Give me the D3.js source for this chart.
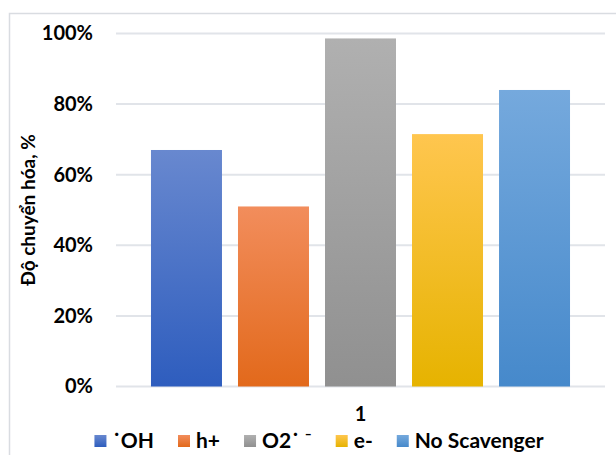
<!DOCTYPE html>
<html>
<head>
<meta charset="utf-8">
<script src="https://cdn.jsdelivr.net/npm/d3@7"></script>
<style>
  html, body { margin: 0; padding: 0; background: #fff; }
  svg { display: block; }
  text { font-family: Lato, "Open Sans", "Liberation Sans", sans-serif; font-weight: bold; fill: #000; }
</style>
</head>
<body>
<svg id="chart" width="616" height="455"></svg>
<script>
// Conversion (%) for each scavenger, single category "1"
const categories = ["1"];
const seriesNames = ["\u02D9OH", "h+", "O2\u02D9 \u207B", "e-", "No Scavenger"];
const seriesValues = [0.67, 0.51, 0.986, 0.715, 0.84];
const yTicks = [0, 0.2, 0.4, 0.6, 0.8, 1.0];
const yTitle = "Độ chuyển hóa, %";

// Gradient stops (top, bottom) per series
const colorTop = ["#6888CF", "#F28D5C", "#B0B0B0", "#FFC64F", "#75A9DD"];
const colorBottom = ["#2E5DBE", "#E2691B", "#909090", "#E6B300", "#4689CB"];

const svg = d3.select("#chart");
const W = 616, H = 455;
const plot = { left: 116, right: 605, top: 33.5, bottom: 386.5 };

// Chart-area border (top and left edges visible)
svg.append("path")
  .attr("d", `M9.5,${H} L9.5,13.5 L${W},13.5`)
  .attr("fill", "none")
  .attr("stroke", "#D9DCE1")
  .attr("stroke-width", 1.5);

const defs = svg.append("defs");
seriesNames.forEach((s, i) => {
  const g = defs.append("linearGradient")
    .attr("id", "grad" + i)
    .attr("x1", 0).attr("y1", 0).attr("x2", 0).attr("y2", 1);
  g.append("stop").attr("offset", "0%").attr("stop-color", colorTop[i]);
  g.append("stop").attr("offset", "100%").attr("stop-color", colorBottom[i]);
});

const y = d3.scaleLinear().domain([0, 1]).range([plot.bottom, plot.top]);
const x0 = d3.scaleBand().domain(categories).range([plot.left, plot.right]).padding(0);
const x1 = d3.scaleBand().domain(seriesNames)
  .range([0, x0.bandwidth()])
  .paddingInner(0.184).paddingOuter(0.402);

// Gridlines
svg.append("g").selectAll("line").data(yTicks).join("line")
  .attr("x1", plot.left).attr("x2", plot.right)
  .attr("y1", d => y(d)).attr("y2", d => y(d))
  .attr("stroke", "#E1E4E9").attr("stroke-width", 2);

// Y axis tick labels
const yAxis = d3.axisLeft(y).tickValues(yTicks).tickFormat(d3.format(".0%")).tickSize(0).tickPadding(0);
const yg = svg.append("g").attr("transform", `translate(93,0)`).call(yAxis);
yg.select(".domain").remove();
yg.selectAll("text")
  .style("font-family", "Lato, 'Open Sans', sans-serif")
  .style("font-weight", "bold")
  .style("font-size", "20px")
  .attr("fill", "#000");

// Bars
const barG = svg.append("g");
categories.forEach(cat => {
  barG.selectAll("rect.bar").data(seriesValues.map((v, i) => ({ v, i, name: seriesNames[i] })))
    .join("rect")
    .attr("class", "bar")
    .attr("x", d => x0(cat) + x1(d.name))
    .attr("width", x1.bandwidth())
    .attr("y", d => y(d.v))
    .attr("height", d => y(0) - y(d.v))
    .attr("fill", d => `url(#grad${d.i})`);
});

// Category label
svg.append("g").selectAll("text").data(categories).join("text")
  .attr("x", d => x0(d) + x0.bandwidth() / 2)
  .attr("y", 421)
  .attr("text-anchor", "middle")
  .style("font-size", "20px")
  .text(d => d);

// Y axis title
svg.append("text")
  .attr("transform", "translate(35,210) rotate(-90)")
  .attr("text-anchor", "middle")
  .style("font-size", "19px")
  .text(yTitle);

// Legend
const legend = svg.append("g");
const sq = 12, sqGap = 6, itemGap = 24, legendY = 448;
const items = legend.selectAll("g").data(seriesNames).join("g");
items.append("rect")
  .attr("width", sq).attr("height", sq)
  .attr("y", legendY - 13)
  .attr("fill", (d, i) => `url(#grad${i})`);
items.append("text")
  .attr("x", sq + sqGap)
  .attr("y", legendY)
  .style("font-size", "21px")
  .text(d => d);
let widths = [];
items.each(function() {
  widths.push(sq + sqGap + d3.select(this).select("text").node().getComputedTextLength());
});
const total = d3.sum(widths) + itemGap * (widths.length - 1);
let cx = 319 - total / 2;
items.attr("transform", (d, i) => {
  const t = `translate(${cx},0)`;
  cx += widths[i] + itemGap;
  return t;
});
</script>
</body>
</html>
